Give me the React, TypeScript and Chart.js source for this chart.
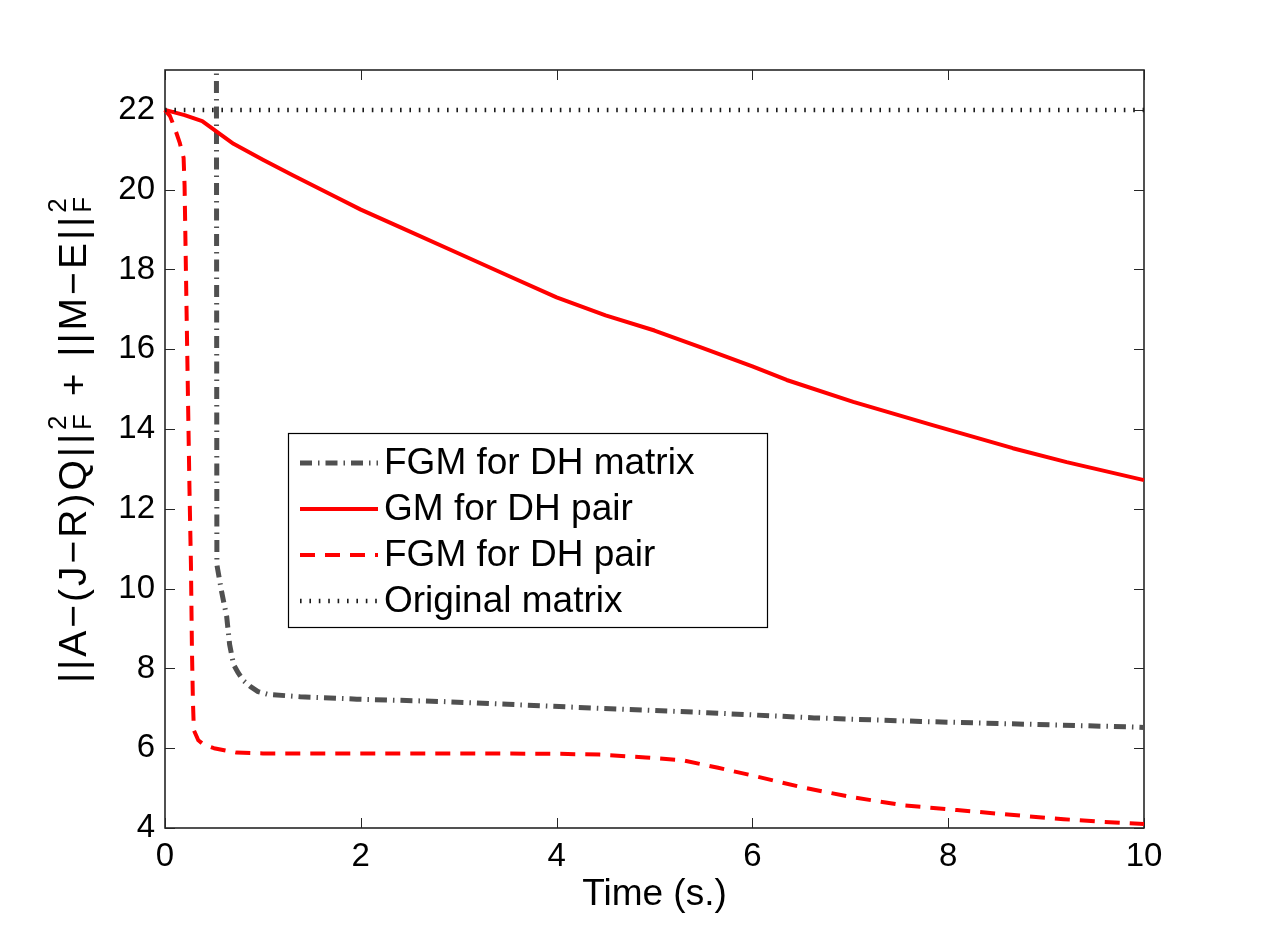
import { useEffect, useRef } from "react";
import { Chart, registerables } from "chart.js";

Chart.register(...registerables);

// Axis ticks
const X_TICKS = [0, 2, 4, 6, 8, 10];
const Y_TICKS = [4, 6, 8, 10, 12, 14, 16, 18, 20, 22];

// FGM for DH matrix
const FGM_MATRIX_T = [0.525, 0.53, 0.58, 0.63, 0.66, 0.7, 0.75, 0.8, 0.87, 0.95, 1.05, 1.38, 1.96, 2.84, 3.5, 4.44, 5.54, 6.63, 7.72, 8.82, 9.91, 10];
const FGM_MATRIX_V = [24, 10.6, 9.9, 9.3, 8.6, 8.1, 7.88, 7.7, 7.55, 7.42, 7.35, 7.29, 7.23, 7.17, 7.1, 7.0, 6.89, 6.76, 6.67, 6.6, 6.53, 6.52];

// GM for DH pair
const GM_PAIR_T = [0, 0.2, 0.38, 0.7, 1.0, 1.3, 1.75, 2.0, 2.4, 3.0, 3.5, 4.0, 4.5, 5.0, 5.46, 6.0, 6.35, 7.03, 7.84, 8.66, 9.21, 10];
const GM_PAIR_V = [22.0, 21.87, 21.72, 21.15, 20.75, 20.37, 19.81, 19.5, 19.06, 18.4, 17.85, 17.3, 16.85, 16.47, 16.06, 15.57, 15.23, 14.68, 14.1, 13.52, 13.17, 12.72];

// FGM for DH pair
const FGM_PAIR_T = [0, 0.05, 0.1, 0.15, 0.19, 0.2, 0.22, 0.24, 0.25, 0.265, 0.275, 0.285, 0.295, 0.34, 0.4, 0.5, 0.73, 1.0, 2.0, 3.0, 4.0, 4.44, 4.91, 5.28, 5.65, 6.01, 6.49, 7.0, 7.54, 8.09, 8.64, 9.18, 9.55, 10];
const FGM_PAIR_V = [22.0, 21.85, 21.54, 21.18, 20.8, 20.1, 17.0, 14.0, 12.5, 10.6, 8.5, 7.2, 6.45, 6.2, 6.08, 6.0, 5.89, 5.87, 5.87, 5.87, 5.86, 5.84, 5.77, 5.7, 5.51, 5.31, 5.03, 4.78, 4.57, 4.45, 4.33, 4.22, 4.16, 4.1];

// Original matrix
const ORIGINAL_T = [0, 10];
const ORIGINAL_V = [22, 22];

const SERIES_NAMES = ["FGM for DH matrix", "GM for DH pair", "FGM for DH pair", "Original matrix"];

const FONT = '"Liberation Sans", Arial, Helvetica, sans-serif';
const AXIS_COLOR = "#262626";

const STYLES = [
  { color: "#505050", width: 5, dash: [12, 6, 1.5, 6] },
  { color: "#ff0000", width: 4, dash: [] as number[] },
  { color: "#ff0000", width: 4, dash: [15, 10] },
  { color: "#1a1a1a", width: 4.5, dash: [1.6, 7.8] },
];

const toPoints = (t: number[], v: number[]) => t.map((x, i) => ({ x, y: v[i] }));

const framePlugin = {
  id: "matlabFrame",
  beforeDatasetsDraw(chart: any) {
    const { ctx, chartArea, scales } = chart;
    const { left, right, top, bottom } = chartArea;
    ctx.save();
    ctx.strokeStyle = AXIS_COLOR;
    ctx.lineWidth = 1;
    const tl = 10;
    ctx.beginPath();
    for (const v of X_TICKS) {
      const px = Math.round(scales.x.getPixelForValue(v)) + 0.5;
      ctx.moveTo(px, bottom);
      ctx.lineTo(px, bottom - tl);
      ctx.moveTo(px, top);
      ctx.lineTo(px, top + tl);
    }
    for (const v of Y_TICKS) {
      const py = Math.round(scales.y.getPixelForValue(v)) + 0.5;
      ctx.moveTo(left, py);
      ctx.lineTo(left + tl, py);
      ctx.moveTo(right, py);
      ctx.lineTo(right - tl, py);
    }
    ctx.stroke();
    ctx.lineWidth = 1.6;
    ctx.strokeRect(left, top, right - left, bottom - top);
    ctx.restore();
  },
  afterDatasetsDraw(chart: any) {
    const { ctx } = chart;
    // legend box
    const lx = 288, ly = 433, lw = 479, lh = 194;
    ctx.save();
    ctx.fillStyle = "#ffffff";
    ctx.fillRect(lx, ly, lw, lh);
    ctx.strokeStyle = "#000000";
    ctx.lineWidth = 1.2;
    ctx.strokeRect(lx + 0.5, ly + 0.5, lw, lh);
    const rows = [463, 509, 555, 601];
    ctx.font = `37px ${FONT}`;
    ctx.textBaseline = "middle";
    ctx.textAlign = "left";
    SERIES_NAMES.forEach((name, i) => {
      const s = STYLES[i];
      const y = rows[i];
      ctx.strokeStyle = s.color;
      ctx.lineWidth = s.width;
      ctx.setLineDash(s.dash);
      ctx.lineCap = "butt";
      ctx.beginPath();
      ctx.moveTo(300, y);
      ctx.lineTo(378, y);
      ctx.stroke();
      ctx.setLineDash([]);
      ctx.fillStyle = "#000000";
      ctx.fillText(name, 384, y + 1);
    });
    ctx.restore();
  },
  afterDraw(chart: any) {
    const { ctx, chartArea } = chart;
    ctx.save();
    ctx.fillStyle = "#000000";
    // x title
    ctx.font = `37px ${FONT}`;
    ctx.textAlign = "center";
    ctx.textBaseline = "alphabetic";
    ctx.fillText("Time (s.)", (chartArea.left + chartArea.right) / 2, 905);

    // y title with super/subscripts
    const size = 39;
    const small = 26;
    (ctx as any).letterSpacing = "3px";
    const pieces = [
      { t: "||A\u2212(J\u2212R)Q||", s: size },
      { t: "", s: small, script: true },
      { t: " + ||M\u2212E||", s: size },
      { t: "", s: small, script: true },
    ];
    const widthOf = (p: any) => {
      ctx.font = `${p.s}px ${FONT}`;
      if (p.script) {
        return Math.max(ctx.measureText("2").width, ctx.measureText("F").width) + 2;
      }
      return ctx.measureText(p.t).width;
    };
    const total = pieces.reduce((a, p) => a + widthOf(p), 0);
    ctx.translate(86, 438);
    ctx.rotate(-Math.PI / 2);
    ctx.textAlign = "left";
    let u = -total / 2;
    for (const p of pieces) {
      const w = widthOf(p);
      ctx.font = `${p.s}px ${FONT}`;
      if (p.script) {
        ctx.fillText("2", u + 1, -20);
        ctx.fillText("F", u + 1, 5);
      } else {
        ctx.fillText(p.t, u, 0);
      }
      u += w;
    }
    ctx.restore();
  },
};

export default function App() {
  const ref = useRef<HTMLCanvasElement | null>(null);

  useEffect(() => {
    if (!ref.current) return;
    const series = [
      toPoints(FGM_MATRIX_T, FGM_MATRIX_V),
      toPoints(GM_PAIR_T, GM_PAIR_V),
      toPoints(FGM_PAIR_T, FGM_PAIR_V),
      toPoints(ORIGINAL_T, ORIGINAL_V),
    ];
    const orders = [3, 2, 1, 0];
    const chart = new Chart(ref.current, {
      type: "line",
      data: {
        datasets: series.map((data, i) => ({
          label: SERIES_NAMES[i],
          data,
          borderColor: STYLES[i].color,
          borderWidth: STYLES[i].width,
          borderDash: STYLES[i].dash,
          borderCapStyle: "butt",
          borderJoinStyle: "round",
          pointRadius: 0,
          fill: false,
          tension: 0,
          order: orders[i],
          clip: i === 0 ? { left: 3, top: 0, right: 3, bottom: 3 } : 3,
        })) as any,
      },
      options: {
        animation: false,
        responsive: false,
        layout: { padding: { left: 0, top: 70, right: 121, bottom: 0 } },
        plugins: { legend: { display: false }, tooltip: { enabled: false } },
        scales: {
          x: {
            type: "linear",
            min: 0,
            max: 10,
            afterBuildTicks: (s: any) => {
              s.ticks = X_TICKS.map((value) => ({ value }));
            },
            afterFit: (s: any) => {
              s.height = 104;
            },
            grid: { display: false, drawTicks: false },
            border: { display: false },
            ticks: {
              color: "#000000",
              font: { family: FONT, size: 33 },
              padding: 9,
              maxRotation: 0,
              autoSkip: false,
            },
          },
          y: {
            type: "linear",
            min: 4,
            max: 23,
            afterBuildTicks: (s: any) => {
              s.ticks = Y_TICKS.map((value) => ({ value }));
            },
            afterFit: (s: any) => {
              s.width = 165;
            },
            grid: { display: false, drawTicks: false },
            border: { display: false },
            ticks: {
              color: "#000000",
              font: { family: FONT, size: 33 },
              padding: 10,
              autoSkip: false,
            },
          },
        },
      } as any,
      plugins: [framePlugin],
    });
    return () => chart.destroy();
  }, []);

  return (
    <div style={{ position: "fixed", left: 0, top: 0, width: 1265, height: 932, background: "#ffffff" }}>
      <canvas ref={ref} width={1265} height={932} style={{ display: "block" }} />
    </div>
  );
}
